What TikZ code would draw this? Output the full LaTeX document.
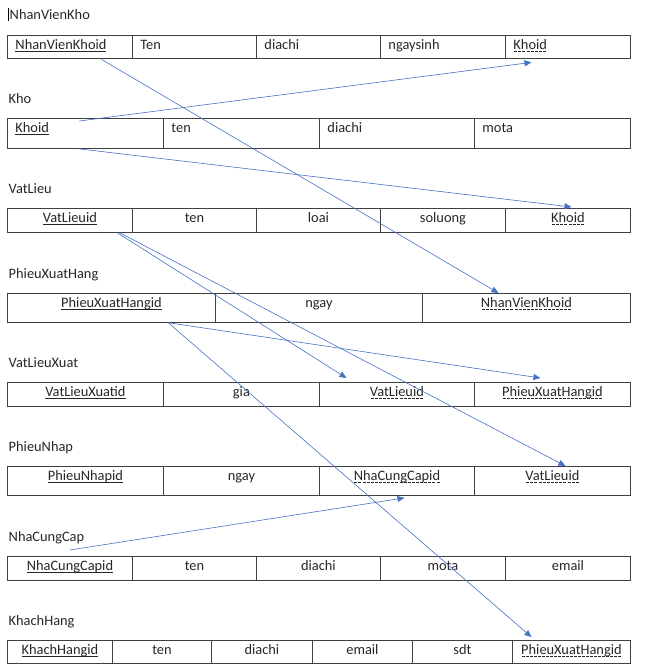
\documentclass[tikz,border=0pt]{standalone}
\usepackage{fontspec}
\setmainfont{Carlito}
\usepackage{tikz}
\usetikzlibrary{arrows.meta}

\definecolor{linkblue}{HTML}{4472C4}
\definecolor{gridgray}{HTML}{404040}
\definecolor{inkgray}{HTML}{262626}

% solid underline for keys, dashed for foreign keys
\newcommand\pkey[1]{\leavevmode\setbox0\hbox{#1}\rlap{\raisebox{-2.4pt}{\rule{\wd0}{0.6pt}}}\box0}
\newcommand\fkey[1]{\leavevmode\setbox0\hbox{#1}\rlap{\raisebox{-2.4pt}{\hbox to \wd0{\xleaders\hbox to 4pt{\hss\rule{3pt}{0.6pt}\hss}\hfill}}}\box0}

\tikzset{
  cell/.style={draw=gridgray, line width=0.9pt, anchor=north west, inner xsep=8pt, inner ysep=0pt,
    text height=14pt, text=inkgray, font=\fontsize{14.4}{17}\selectfont},
  lcell/.style={cell, align=left},
  ccell/.style={cell, align=center},
  title/.style={anchor=base west, inner sep=0pt, text=inkgray, font=\fontsize{14.4}{17}\selectfont},
  fk/.style={draw=linkblue, line width=0.6pt, -{Triangle[length=7pt,width=6pt]}}
}

\begin{document}
\begin{tikzpicture}[x=1pt, y=-1pt]
				\useasboundingbox (0,0) rectangle (655,669);
				\draw[line width=0.4pt] (8,8) -- (8,21);
				
				% NhanVienKho
				\node[title] (tnvk) at (9.5,20) {NhanVienKho};
				\foreach \x/\w/\txt [count=\i, evaluate=\w as \tw using \w-16] in
					{7/125/\pkey{NhanVienKhoid}, 132/124/Ten, 256/124/diachi, 380/125/ngaysinh, 505/125/\fkey{Khoid}}
					\node[lcell, text width=\tw pt, text depth=9.5pt] (nvk\i) at (\x,35) {\txt};
				
				% Kho
				\node[title] (tkho) at (8.5,103) {Kho};
				\foreach \x/\w/\txt [count=\i, evaluate=\w as \tw using \w-16] in
					{7/156/\pkey{Khoid}, 163/156/ten, 319/155/diachi, 474/156/mota}
					\node[lcell, text width=\tw pt, text depth=16pt] (kho\i) at (\x,118) {\txt};
				
				% VatLieu
				\node[title] (tvl) at (8.5,193) {VatLieu};
				\foreach \x/\w/\txt [count=\i, evaluate=\w as \tw using \w-16] in
					{7/125/\pkey{VatLieuid}, 132/124/ten, 256/124/loai, 380/125/soluong, 505/125/\fkey{Khoid}}
					\node[ccell, text width=\tw pt, text depth=10pt] (vl\i) at (\x,208) {\txt};
				
				% PhieuXuatHang
				\node[title] (tphx) at (8.5,278) {PhieuXuatHang};
				\foreach \x/\w/\txt [count=\i, evaluate=\w as \tw using \w-16] in
					{7/208/\pkey{PhieuXuatHangid}, 215/207/ngay, 422/208/\fkey{NhanVienKhoid}}
					\node[ccell, text width=\tw pt, text depth=15pt] (phx\i) at (\x,293) {\txt};
				
				% VatLieuXuat
				\node[title] (tvlx) at (8.5,367) {VatLieuXuat};
				\foreach \x/\w/\txt [count=\i, evaluate=\w as \tw using \w-16] in
					{7/156/\pkey{VatLieuXuatid}, 163/156/gia, 319/155/\fkey{VatLieuid}, 474/156/\fkey{PhieuXuatHangid}}
					\node[ccell, text width=\tw pt, text depth=10pt] (vlx\i) at (\x,382) {\txt};
				
				% PhieuNhap
				\node[title] (tpn) at (8.5,451) {PhieuNhap};
				\foreach \x/\w/\txt [count=\i, evaluate=\w as \tw using \w-16] in
					{7/156/\pkey{PhieuNhapid}, 163/156/ngay, 319/155/\fkey{NhaCungCapid}, 474/156/\fkey{VatLieuid}}
					\node[ccell, text width=\tw pt, text depth=15pt] (pn\i) at (\x,466) {\txt};
				
				% NhaCungCap
				\node[title] (tncc) at (8.5,541) {NhaCungCap};
				\foreach \x/\w/\txt [count=\i, evaluate=\w as \tw using \w-16] in
					{7/125/\pkey{NhaCungCapid}, 132/124/ten, 256/124/diachi, 380/125/mota, 505/125/email}
					\node[ccell, text width=\tw pt, text depth=9.5pt] (ncc\i) at (\x,556) {\txt};
				
				% KhachHang
				\node[title] (tkh) at (8.5,625) {KhachHang};
				\foreach \x/\w/\txt [count=\i, evaluate=\w as \tw using \w-16] in
					{7/105/\pkey{KhachHangid}, 112/99/ten, 211/101/diachi, 312/100/email, 412/100/sdt, 512/118/\fkey{PhieuXuatHangid}}
					\node[ccell, text width=\tw pt, text depth=8.5pt] (kh\i) at (\x,640) {\txt};
				
				\draw[fk] ([xshift=31.5pt]nvk1.south) -- ([xshift=-28pt]phx3.north);
				\draw[fk] ([xshift=-6pt,yshift=-3pt]kho1.north) -- ([xshift=-36.5pt,yshift=-3pt]nvk5.south);
				\draw[fk] ([xshift=-6pt]kho1.south) -- ([xshift=3.5pt,yshift=1pt]vl5.north);
				\draw[fk] ([xshift=47.5pt]vl1.south) -- ([xshift=-50.5pt,yshift=4pt]vlx3.north);
				\draw[fk] ([xshift=50pt]vl1.south) -- ([xshift=13pt]pn4.north);
				\draw[fk] ([xshift=58pt]phx1.south) -- ([xshift=-12pt,yshift=4pt]vlx4.north);
				\draw[fk] ([xshift=57pt]phx1.south) -- ([xshift=-40pt,yshift=3pt]kh6.north);
				\draw[fk] ([yshift=6pt]ncc1.north) -- ([xshift=7.5pt,yshift=-2pt]pn3.south);
			\end{tikzpicture}
\end{document}
